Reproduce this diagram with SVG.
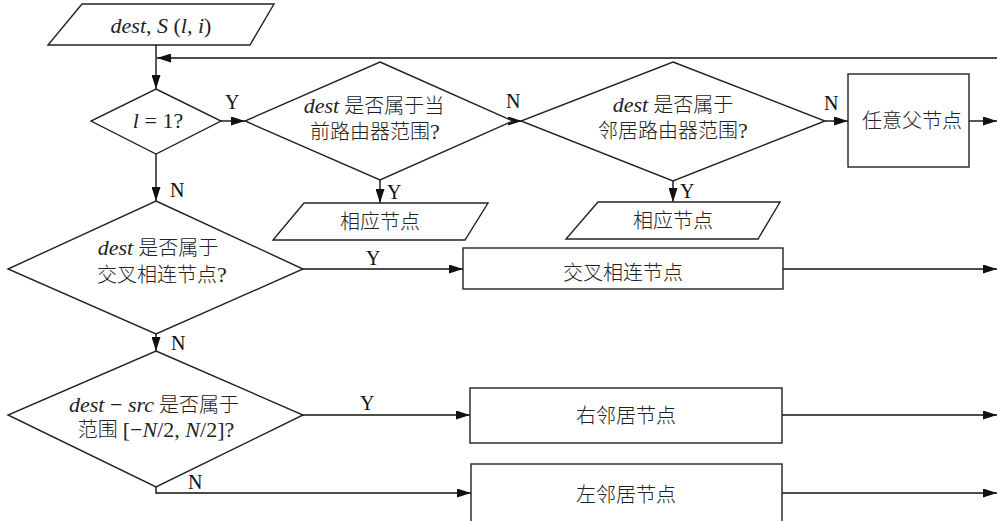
<svg xmlns="http://www.w3.org/2000/svg" width="997" height="521" viewBox="0 0 997 521">
<style>
.sh{fill:#fff;stroke:#222;stroke-width:1.4}
.cn{fill:none;stroke:#111;stroke-width:1.4}
.t{font-family:"Liberation Serif","Noto Sans CJK SC",serif;font-size:20px;font-weight:300;fill:#222;text-anchor:middle}
.l{font-family:"Liberation Serif",serif;font-size:20px;fill:#111}
.i{font-style:italic;font-size:22px}
.e{font-size:22px}
</style>
<defs>
<marker id="ar" markerUnits="userSpaceOnUse" markerWidth="14" markerHeight="9" refX="14" refY="4.5" orient="auto">
<path d="M0,0 L14,4.5 L0,9 z" fill="#111"/>
</marker>
</defs>
<g id="connectors">
<path class="cn" d="M156,45 V89" marker-end="url(#ar)"/>
<path class="cn" d="M997,58 H157" marker-end="url(#ar)"/>
<path class="cn" d="M221,121 H245" marker-end="url(#ar)"/>
<path class="cn" d="M508,121 H522" marker-end="url(#ar)"/>
<path class="cn" d="M825,121 H848" marker-end="url(#ar)"/>
<path class="cn" d="M969,121 H997" marker-end="url(#ar)"/>
<path class="cn" d="M380,180 V203" marker-end="url(#ar)"/>
<path class="cn" d="M673,181 V202" marker-end="url(#ar)"/>
<path class="cn" d="M156,154 V201" marker-end="url(#ar)"/>
<path class="cn" d="M303,269 H463" marker-end="url(#ar)"/>
<path class="cn" d="M783,269 H997" marker-end="url(#ar)"/>
<path class="cn" d="M156,334 V351" marker-end="url(#ar)"/>
<path class="cn" d="M303,415 H470" marker-end="url(#ar)"/>
<path class="cn" d="M782,415 H997" marker-end="url(#ar)"/>
<path class="cn" d="M156,487 V493 H471" marker-end="url(#ar)"/>
<path class="cn" d="M782,493 H997" marker-end="url(#ar)"/>
<text class="l" x="225" y="109">Y</text>
<text class="l" x="170" y="197">N</text>
<text class="l" x="506" y="108">N</text>
<text class="l" x="387" y="199">Y</text>
<text class="l" x="680" y="198">Y</text>
<text class="l" x="824" y="110">N</text>
<text class="l" x="366" y="265">Y</text>
<text class="l" x="171" y="350">N</text>
<text class="l" x="360" y="410">Y</text>
<text class="l" x="188" y="489">N</text>
</g>
<g id="input">
<polygon class="sh" points="82,4 274,4 250,45 48,45"/>
<text class="t" x="161" y="33"><tspan class="i">dest</tspan><tspan class="e">, </tspan><tspan class="i">S</tspan><tspan class="e"> (</tspan><tspan class="i">l</tspan><tspan class="e">, </tspan><tspan class="i">i</tspan><tspan class="e">)</tspan></text>
</g>
<g id="d1">
<polygon class="sh" points="156,89 221,121 156,154 91,121"/>
<text class="t" x="158" y="128"><tspan class="i">l</tspan><tspan class="e"> = 1?</tspan></text>
</g>
<g id="d2">
<polygon class="sh" points="380,62 513,121 380,180 245,121"/>
<text class="t" x="374" y="113"><tspan class="i">dest</tspan> 是否属于当</text>
<text class="t" x="375" y="139">前路由器范围<tspan class="e">?</tspan></text>
</g>
<g id="d3">
<polygon class="sh" points="673,62 825,121 673,181 521,121"/>
<text class="t" x="673" y="112"><tspan class="i">dest</tspan> 是否属于</text>
<text class="t" x="673" y="138">邻居路由器范围<tspan class="e">?</tspan></text>
</g>
<g id="parent">
<rect class="sh" x="848" y="74" width="121" height="93"/>
<text class="t" x="912" y="128">任意父节点</text>
</g>
<g id="out1">
<polygon class="sh" points="304,203 488,203 465,240 273,240"/>
<text class="t" x="380" y="229">相应节点</text>
</g>
<g id="out2">
<polygon class="sh" points="598,202 780,202 758,239 566,239"/>
<text class="t" x="673" y="228">相应节点</text>
</g>
<g id="d4">
<polygon class="sh" points="156,201 303,269 156,334 8,269"/>
<text class="t" x="158" y="255"><tspan class="i">dest</tspan> 是否属于</text>
<text class="t" x="162" y="282">交叉相连节点<tspan class="e">?</tspan></text>
</g>
<g id="cross">
<rect class="sh" x="463" y="248" width="320" height="41"/>
<text class="t" x="623" y="280">交叉相连节点</text>
</g>
<g id="d5">
<polygon class="sh" points="156,351 303,415 156,487 8,415"/>
<text class="t" x="154" y="412"><tspan class="i">dest</tspan><tspan class="e"> − </tspan><tspan class="i">src</tspan> 是否属于</text>
<text class="t" x="156" y="437">范围 <tspan class="e">[−</tspan><tspan class="i">N</tspan><tspan class="e">/2, </tspan><tspan class="i">N</tspan><tspan class="e">/2]?</tspan></text>
</g>
<g id="right">
<rect class="sh" x="470" y="388" width="312" height="55"/>
<text class="t" x="626" y="423">右邻居节点</text>
</g>
<g id="left">
<rect class="sh" x="471" y="464" width="311" height="70"/>
<text class="t" x="626" y="502">左邻居节点</text>
</g>
</svg>
